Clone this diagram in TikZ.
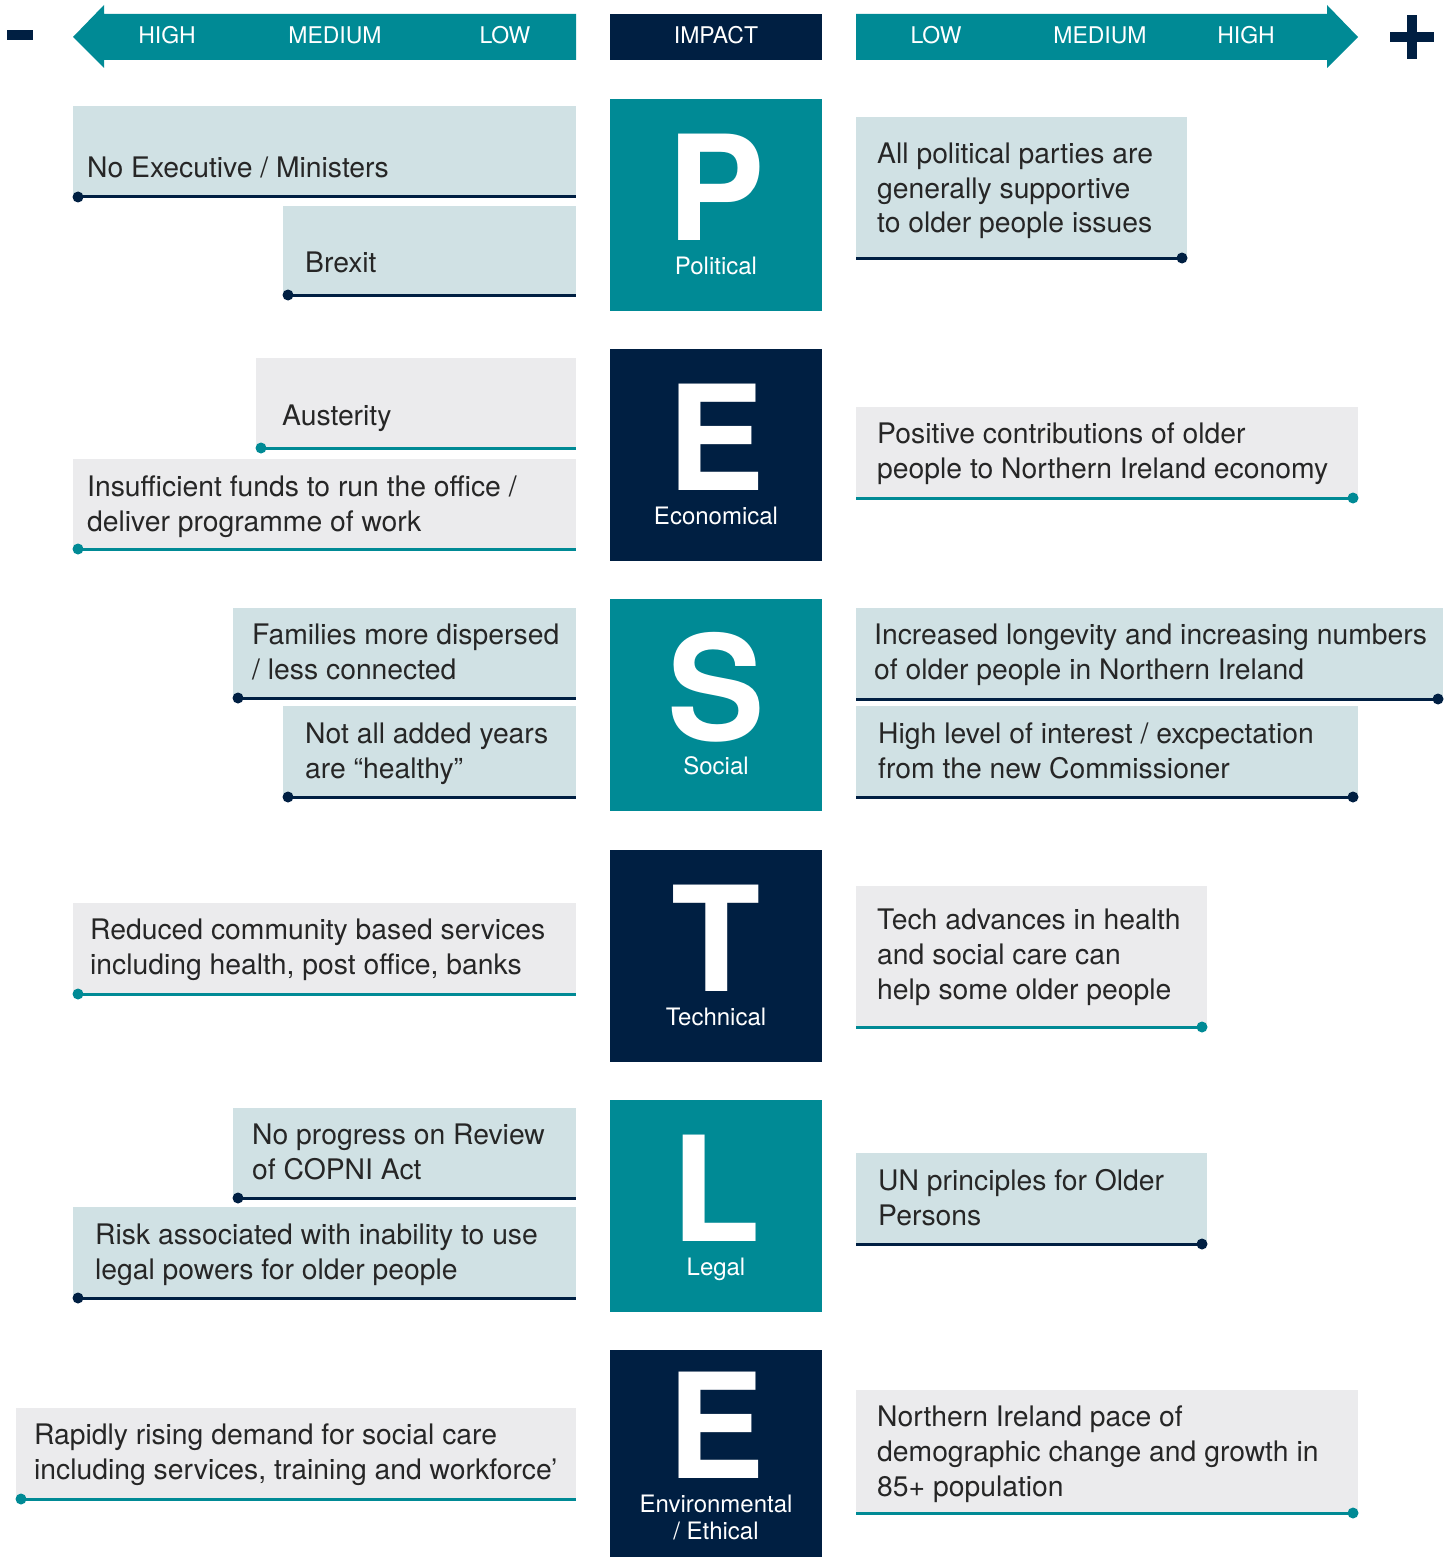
\documentclass[tikz,border=0pt]{standalone}
\usepackage{fontspec}
\setmainfont{TeX Gyre Heros}
\usetikzlibrary{positioning,fit}
\definecolor{pteal}{HTML}{008A95}
\definecolor{pnavy}{HTML}{001F42}
\definecolor{boxblue}{HTML}{D0E1E4}
\definecolor{boxgrey}{HTML}{EBEBED}
\definecolor{txtgrey}{HTML}{262626}

\tikzset{
	box/.style={inner sep=0pt, outer sep=0pt},
	bluebox/.style={box, fill=boxblue},
	greybox/.style={box, fill=boxgrey},
	% base west = baseline of the last line
	txt/.style={anchor=base west, align=left, inner sep=0pt, text=txtgrey,
		font=\fontsize{28.3}{35}\selectfont},
	navyline/.style={draw=pnavy, line width=3pt},
	tealline/.style={draw=pteal, line width=3pt},
	hdr/.style={anchor=base, inner sep=0pt, text=white, font=\fontsize{23}{23}\selectfont},
	letterbox/.style={box, minimum width=212pt, anchor=north west},
	bigletter/.style={anchor=base, inner sep=0pt, text=white, text depth=0pt, text height=105pt,
		font=\fontsize{146}{146}\selectfont\bfseries},
	lettername/.style={anchor=base, inner sep=0pt, text=white, align=center,
		font=\fontsize{24}{27}\selectfont},
}

\begin{document}
\begin{tikzpicture}[x=1pt, y=-1pt]
	\useasboundingbox (0,0) rectangle (1447,1557);

	% header
	\fill[pnavy] (7,30) rectangle (33,40);
	\fill[pteal] (576,14) -- (104,14) -- (104,5) -- (73,37) -- (104,68) -- (104,60) -- (576,60) -- cycle;
	\node[hdr] (lhigh) at (167,44) {HIGH};
	\node[hdr] (lmed) at (335,44) {MEDIUM};
	\node[hdr] (llow) at (505,44) {LOW};
	\node[box, fill=pnavy, fit={(610,14) (822,60)}] (impact) {};
	\node[hdr] at ([yshift=-7pt]impact.center) {IMPACT};
	\fill[pteal] (856,14) -- (1327,14) -- (1327,5) -- (1358,37) -- (1327,68) -- (1327,60) -- (856,60) -- cycle;
	\node[hdr] (rlow) at (936,44) {LOW};
	\node[hdr] (rmed) at (1100,44) {MEDIUM};
	\node[hdr] (rhigh) at (1246,44) {HIGH};
	\fill[pnavy] (1390,32) rectangle (1434,42);
	\fill[pnavy] (1407,15) rectangle (1417,59);

	% impact letters
	\node[letterbox, fill=pteal, minimum height=212pt] (pbox) at (610,99) {};
	\node[bigletter] (pltr) at ([yshift=-141pt]pbox.north) {P};
	\node[lettername] at ([yshift=-175pt]pbox.north) {Political};
	\node[letterbox, fill=pnavy, minimum height=212pt] (ebox) at (610,349) {};
	\node[bigletter] (eltr) at ([yshift=-141pt]ebox.north) {E};
	\node[lettername] at ([yshift=-175pt]ebox.north) {Economical};
	\node[letterbox, fill=pteal, minimum height=212pt] (sbox) at (610,599) {};
	\node[bigletter] (sltr) at ([yshift=-141pt]sbox.north) {S};
	\node[lettername] at ([yshift=-175pt]sbox.north) {Social};
	\node[letterbox, fill=pnavy, minimum height=212pt] (tbox) at (610,850) {};
	\node[bigletter] (tltr) at ([yshift=-141pt]tbox.north) {T};
	\node[lettername] at ([yshift=-175pt]tbox.north) {Technical};
	\node[letterbox, fill=pteal, minimum height=212pt] (lbox) at (610,1100) {};
	\node[bigletter] (lltr) at ([yshift=-141pt]lbox.north) {L};
	\node[lettername] at ([yshift=-175pt]lbox.north) {Legal};
	\node[letterbox, fill=pnavy, minimum height=207pt] (eebox) at (610,1350) {};
	\node[bigletter] (eeltr) at ([yshift=-128pt]eebox.north) {E};
	\node[lettername] at ([yshift=-189pt]eebox.north) {Environmental\\/ Ethical};

	% negative side
	\node[bluebox, fit={(73,106) (576,197)}] (exec) {};
	\node[txt] at (87,178) {No Executive / Ministers};
	\node[bluebox, fit={(283,206) (576,295)}] (brexit) {};
	\node[txt] at (305,272) {Brexit};
	\node[greybox, fit={(256,358) (576,448)}] (auster) {};
	\node[txt] at (282,425) {Austerity};
	\node[greybox, fit={(73,459) (576,549)}] (funds) {};
	\node[txt] at (87,531) {Insufficient funds to run the office /\\deliver programme of work};
	\node[bluebox, fit={(233,608) (576,698)}] (family) {};
	\node[txt] at (252,679) {Families more dispersed\\/ less connected};
	\node[bluebox, fit={(283,706) (576,797)}] (healthy) {};
	\node[txt] at (305,778) {Not all added years\\are “healthy”};
	\node[greybox, fit={(73,903) (576,994)}] (reduced) {};
	\node[txt] at (90,974) {Reduced community based services\\including health, post office, banks};
	\node[bluebox, fit={(233,1108) (576,1198)}] (copni) {};
	\node[txt] at (252,1179) {No progress on Review\\of COPNI Act};
	\node[bluebox, fit={(73,1207) (576,1298)}] (risk) {};
	\node[txt] at (95,1279) {Risk associated with inability to use\\legal powers for older people};
	\node[greybox, fit={(16,1408) (576,1499)}] (demand) {};
	\node[txt] at (34,1479) {Rapidly rising demand for social care\\including services, training and workforce’};

	\foreach \nm/\ln in {exec/navy, brexit/navy, auster/teal, funds/teal, family/navy,
		healthy/navy, reduced/teal, copni/navy, risk/navy, demand/teal}{
		\draw[\ln line] (\nm.south west) -- (\nm.south east);
		\fill[p\ln] ([xshift=5pt]\nm.south west) circle (5.5pt);
	}

	% positive side
	\node[bluebox, fit={(856,117) (1187,258)}] (parties) {};
	\node[txt] at (877,233) {All political parties are\\generally supportive\\to older people issues};
	\node[greybox, fit={(856,407) (1358,498)}] (contrib) {};
	\node[txt] at (877,478) {Positive contributions of older\\people to Northern Ireland economy};
	\node[bluebox, fit={(856,608) (1443,699)}] (longev) {};
	\node[txt] at (874,679) {Increased longevity and increasing numbers\\of older people in Northern Ireland};
	\node[bluebox, fit={(856,706) (1358,797)}] (interest) {};
	\node[txt] at (878,778) {High level of interest / excpectation\\from the new Commissioner};
	\node[greybox, fit={(856,886) (1207,1027)}] (tech) {};
	\node[txt] at (877,999) {Tech advances in health\\and social care can\\help some older people};
	\node[bluebox, fit={(856,1153) (1207,1244)}] (unprin) {};
	\node[txt] at (878,1225) {UN principles for Older\\Persons};
	\node[greybox, fit={(856,1390) (1358,1513)}] (pace) {};
	\node[txt] at (877,1496) {Northern Ireland pace of\\demographic change and growth in\\85+ population};

	\foreach \nm/\ln in {parties/navy, contrib/teal, longev/navy, interest/navy,
		tech/teal, unprin/navy, pace/teal}{
		\draw[\ln line] (\nm.south west) -- (\nm.south east);
		\fill[p\ln] ([xshift=-5pt]\nm.south east) circle (5.5pt);
	}
\end{tikzpicture}
\end{document}
